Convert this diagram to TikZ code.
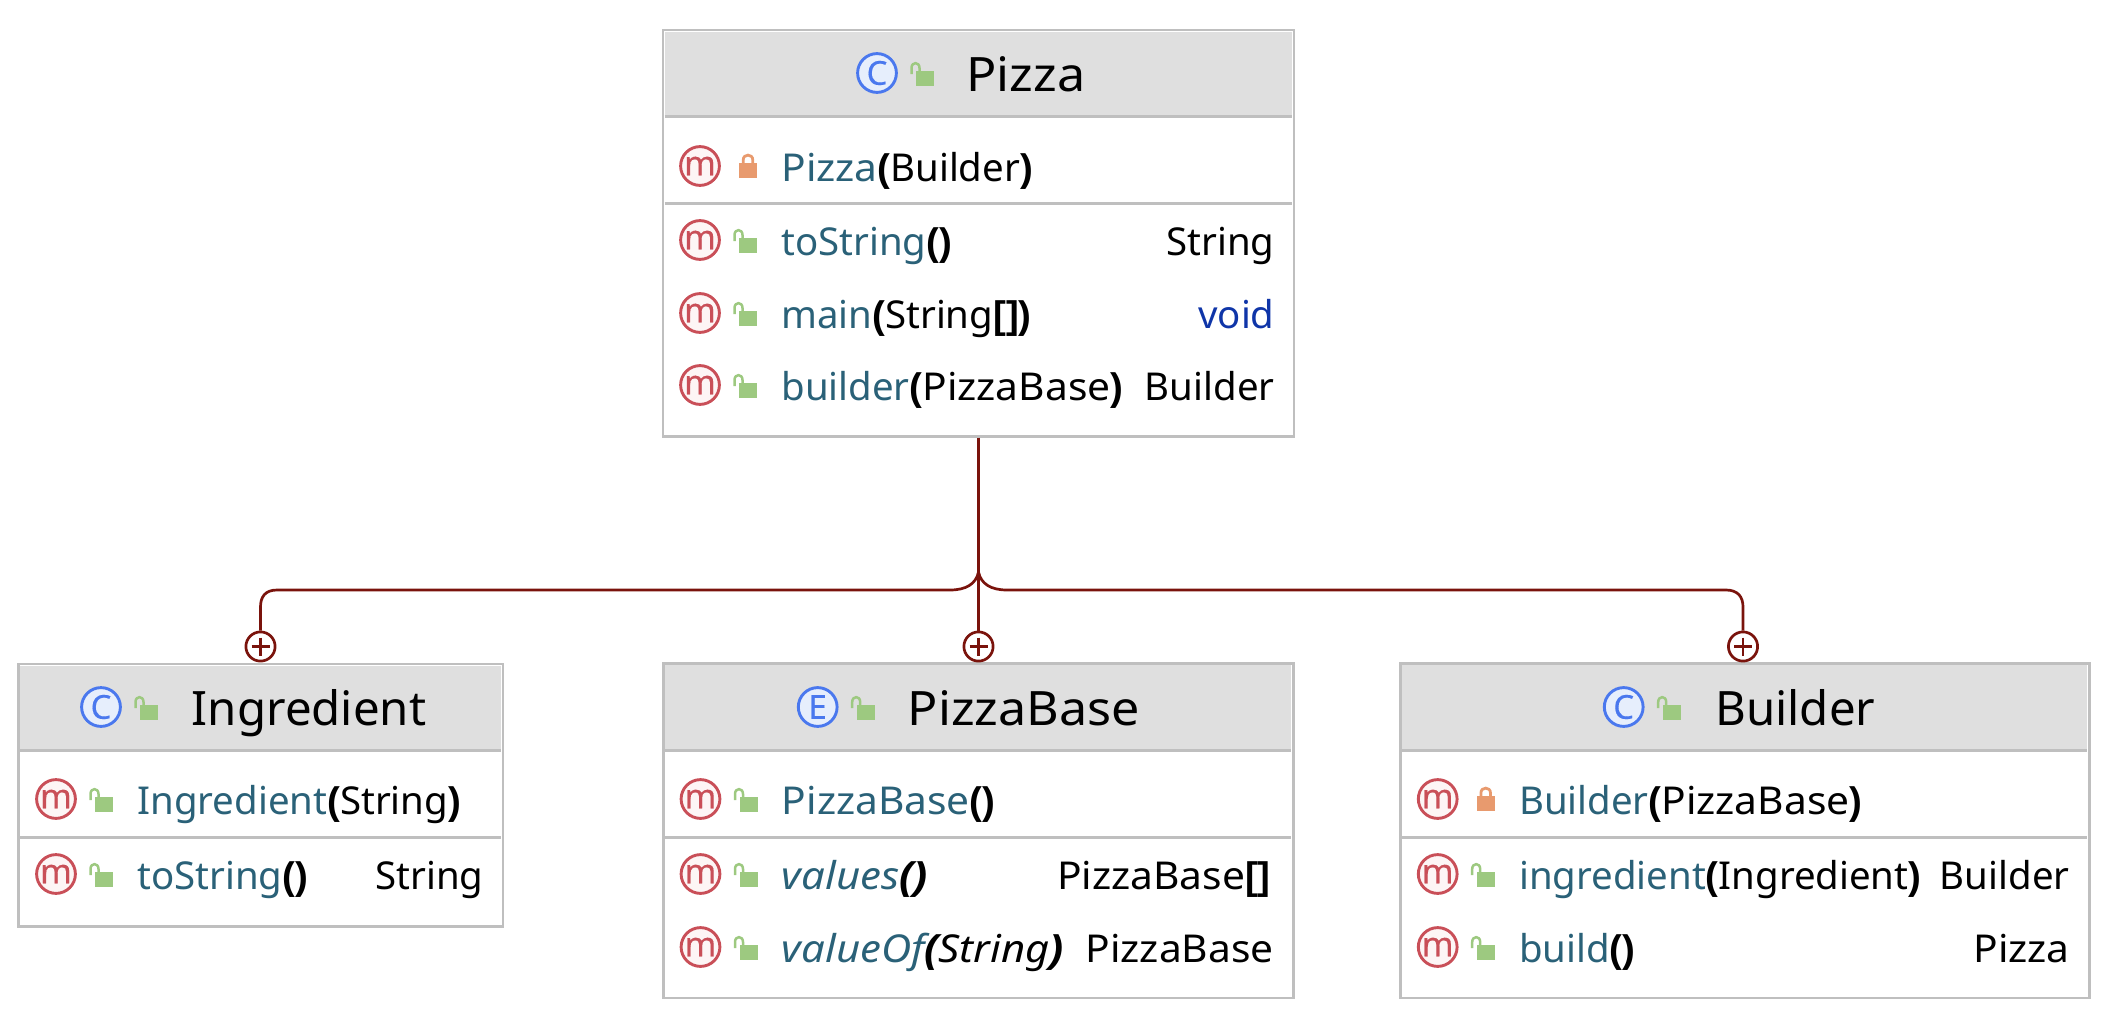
\documentclass[tikz,border=0pt]{standalone}
\usepackage{graphicx}
\usepackage{fontspec}
\setmainfont{Noto Sans}
\newfontfamily\parenfont{Liberation Sans}
\usetikzlibrary{positioning}

\definecolor{boxgray}{HTML}{BFBFBF}
\definecolor{headgray}{HTML}{DFDFDF}
\definecolor{nestred}{HTML}{7A130C}
\definecolor{mred}{HTML}{C94F58}
\definecolor{mfill}{HTML}{FDF5F5}
\definecolor{cblue}{HTML}{4A78EE}
\definecolor{cfill}{HTML}{E6EEFC}
\definecolor{lockgreen}{HTML}{9DC980}
\definecolor{lockorange}{HTML}{E89A6E}
\definecolor{nameteal}{HTML}{2A6178}
\definecolor{voidblue}{HTML}{0F35A8}

\tikzset{
    classbox/.style={draw=boxgray,line width=1.3pt,inner sep=0pt},
    sepline/.style={draw=boxgray,line width=1.3pt},
    micon/.style={circle,draw=mred,fill=mfill,line width=1.45pt,minimum size=19.4pt,inner sep=0pt,text=mred,font=\fontsize{17}{17}\selectfont\addfontfeature{FakeBold=0.3}},
    cicon/.style={circle,draw=cblue,fill=cfill,line width=1.45pt,minimum size=19.4pt,inner sep=0pt,text=cblue,font=\fontsize{16.5}{16.5}\selectfont\addfontfeature{FakeBold=0.3}},
    headtext/.style={anchor=base west,inner sep=0pt,font=\fontsize{23.7}{23.7}\selectfont},
    rowtext/.style={anchor=base west,inner sep=0pt,font=\fontsize{19.2}{19.2}\selectfont},
    rettext/.style={anchor=base east,inner sep=0pt,font=\fontsize{19.2}{19.2}\selectfont},
    nest/.style={draw=nestred,line width=1.35pt},
    plusmark/.style={circle,draw=nestred,fill=white,line width=1.35pt,minimum size=14.6pt,inner sep=0pt},
    openlock/.pic={
        \fill[lockgreen] (39,-2) rectangle (57,13);
        \draw[lockgreen,line width=1.25pt] (34.5,1) -- (34.5,-5) .. controls (34.5,-11.5) and (42.5,-11.5) .. (42.5,-5) -- (42.5,-2);
    },
    privlock/.pic={
        \fill[lockorange] (39,-3) rectangle (57,12);
        \draw[lockorange,line width=1.4pt] (43.2,-3) -- (43.2,-6) .. controls (43.2,-12.5) and (52.8,-12.5) .. (52.8,-6) -- (52.8,-3);
    }
}

\newcommand{\mname}[1]{\textcolor{nameteal}{#1}}
\newcommand{\bp}[1]{{\parenfont\bfseries #1}}
\newcommand{\pz}[1]{\scalebox{1.06}[1]{#1}}
\newcommand{\slantrow}[1]{\scalebox{1.09}[1]{\itshape #1}}

% left, top, right, bottom of the box, then y of the header line and of the member line
\newcommand{\classframe}[7]{
    \node[classbox,minimum width={(#4-#2)*0.5pt},minimum height={(#5-#3)*0.5pt}] (#1) at ({(#2+#4)/2},{(#3+#5)/2}) {};
    \fill[headgray] ({#2+1.5},{#3+1.5}) rectangle ({#4-2.5},#6);
    \draw[sepline] ({#2+1.5},#6) -- ({#4-2.5},#6);
    \draw[sepline] ({#2+1.5},#7) -- ({#4-2.5},#7);
}
% id, icon x, icon y, lock, text
\newcommand{\mrow}[5]{
    \node[micon] (m#1) at (#2,#3) {m};
    \pic at (#2,#3) {#4};
    \node[rowtext] (t#1) at ({#2+81},{#3+15}) {#5};
}

\begin{document}
\begin{tikzpicture}[x=0.5pt,y=-0.5pt]
    \useasboundingbox (0,0) rectangle (2104,1012);

    \classframe{pizza}{663}{30}{1294}{436.3}{116.5}{203.5}
    \classframe{ingredient}{18.7}{664}{503}{926.5}{750.3}{837.7}
    \classframe{pizzabase}{663.3}{663.7}{1293.5}{998}{750.3}{837.7}
    \classframe{builder}{1400.7}{663.7}{2089.5}{998}{750.3}{837.7}

    % Pizza
    \node[cicon] (cPizza) at (877,73) {C};
    \pic at (877,73) {openlock};
    \node[headtext] (hPizza) at (966,91) {\pz{Pizza}};
    \mrow{a}{700}{166}{privlock}{\mname{\pz{Pizza}}\bp{(}Builder\bp{)}}
    \mrow{b}{700}{240}{openlock}{\mname{toString}\bp{()}}
    \mrow{c}{700}{313}{openlock}{\mname{main}\bp{(}String\bp{[]}\bp{)}}
    \mrow{d}{700}{385}{openlock}{\mname{builder}\bp{(}\pz{PizzaBase}\bp{)}}
    \node[rettext] (rb) at (1275,255) {String};
    \node[rettext,text=voidblue] (rc) at (1275,328) {void};
    \node[rettext] (rd) at (1275,400) {Builder};

    % Ingredient
    \node[cicon] (cIng) at (101,707) {C};
    \pic at (101,707) {openlock};
    \node[headtext] (hIng) at (191.5,725) {Ingredient};
    \mrow{e}{56}{799}{openlock}{\mname{Ingredient}\bp{(}String\bp{)}}
    \mrow{f}{56}{874}{openlock}{\mname{toString}\bp{()}}
    \node[rettext] (rf) at (484,889) {String};

    % PizzaBase
    \node[cicon] (cBase) at (817.7,707) {E};
    \pic at (817.7,707) {openlock};
    \node[headtext] (hBase) at (907.5,725) {\pz{PizzaBase}};
    \mrow{g}{700.5}{799}{openlock}{\mname{\pz{PizzaBase}}\bp{()}}
    \mrow{h}{700.5}{874}{openlock}{\slantrow{\mname{values}\bp{()}}}
    \mrow{i}{700.5}{947}{openlock}{\slantrow{\mname{valueOf}\bp{(}String\bp{)}}}
    \node[rettext] (rh) at (1271,889) {\pz{PizzaBase}\bp{[]}};
    \node[rettext] (ri) at (1274,962) {\pz{PizzaBase}};

    % Builder
    \node[cicon] (cBld) at (1623.7,707) {C};
    \pic at (1623.7,707) {openlock};
    \node[headtext] (hBld) at (1715,725) {Builder};
    \mrow{j}{1437.7}{799}{privlock}{\mname{Builder}\bp{(}\pz{PizzaBase}\bp{)}}
    \mrow{k}{1437.7}{874}{openlock}{\mname{ingredient}\bp{(}Ingredient\bp{)}}
    \mrow{l}{1437.7}{947}{openlock}{\mname{build}\bp{()}}
    \node[rettext] (rk) at (2070,889) {Builder};
    \node[rettext] (rl) at (2070,962) {\pz{Pizza}};

    % nesting links
    \foreach \n/\px in {plusIng/260.5,plusBase/978.5,plusBld/1743} {
        \node[plusmark] (\n) at (\px,646.5) {};
        \draw[nest] (\px-9,646.5) -- (\px+9,646.5);
        \draw[nest] (\px,637.5) -- (\px,655.5);
    }
    \coordinate (hub) at (978.5,572);
    \draw[nest] (pizza.south) -- (plusBase.north);
    \draw[nest] (hub) .. controls (976,584) and (966,590) .. (950,590) -- (277,590)
        .. controls (265,590) and (260.5,597) .. (260.5,607) -- (plusIng.north);
    \draw[nest] (hub) .. controls (981,584) and (991,590) .. (1007,590) -- (1726,590)
        .. controls (1738,590) and (1743,597) .. (1743,607) -- (plusBld.north);
\end{tikzpicture}
\end{document}
